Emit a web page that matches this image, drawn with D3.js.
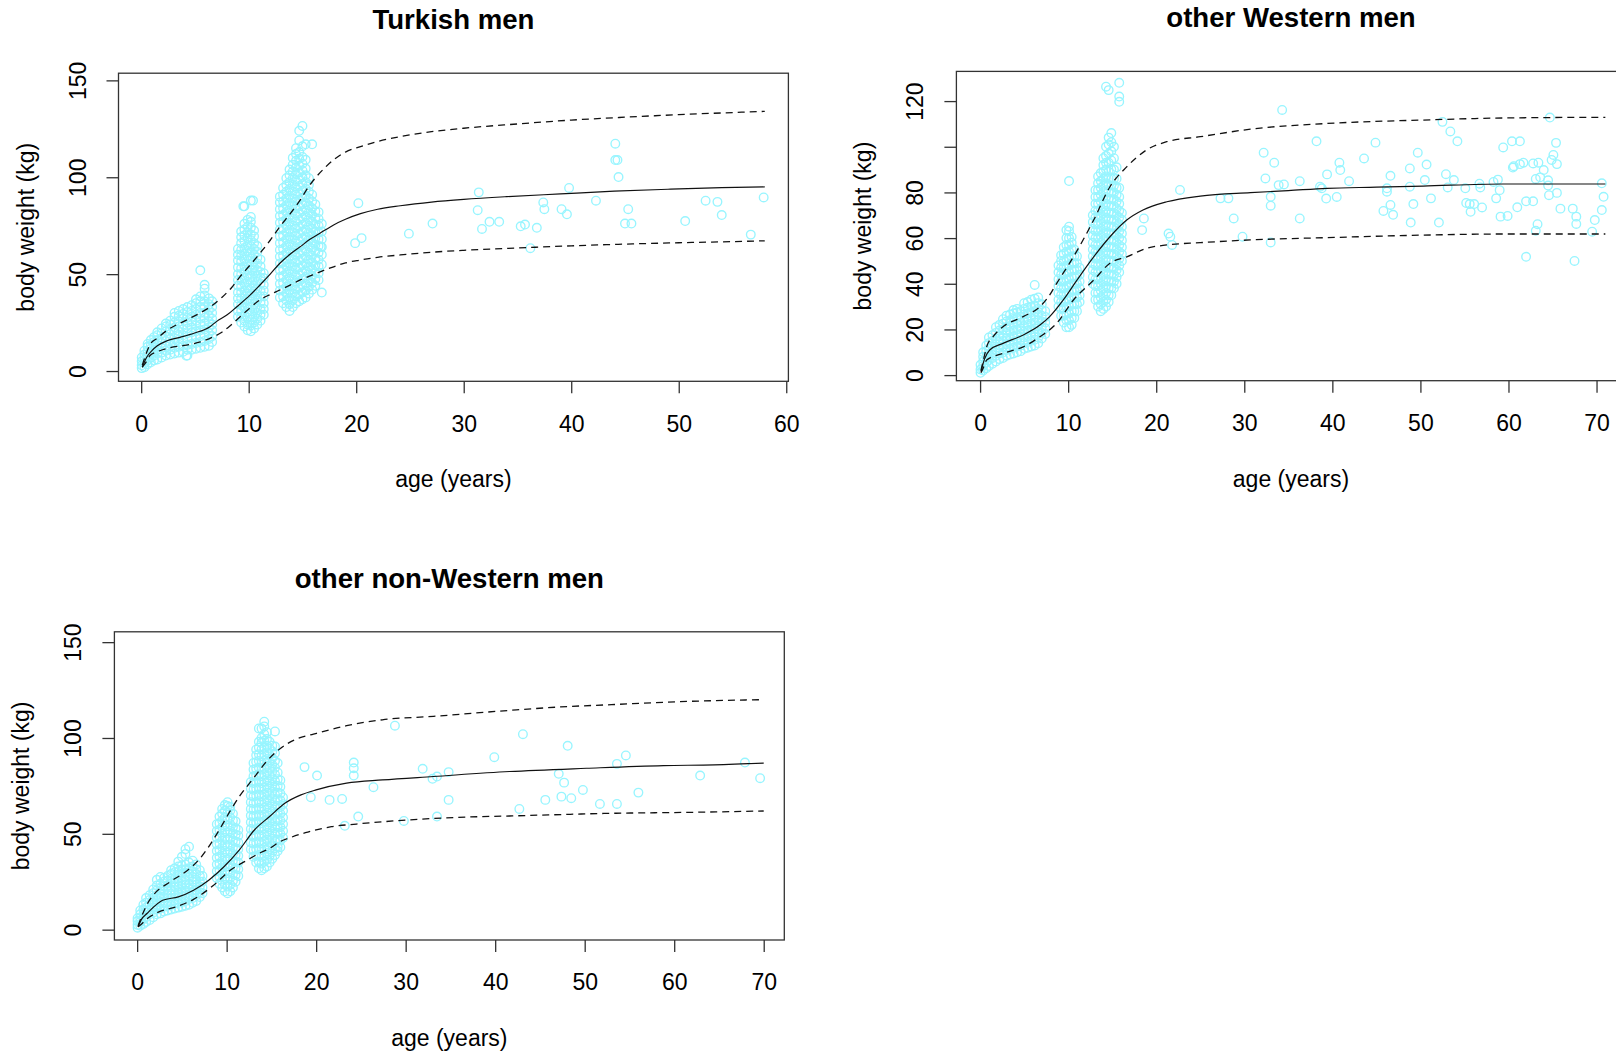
<!DOCTYPE html>
<html>
<head>
<meta charset="utf-8">
<script src="https://cdn.jsdelivr.net/npm/d3@7"></script>
<style>
  body { margin: 0; background: #fff; }
  svg { display: block; }
</style>
</head>
<body>
<script>
// ---- data ----
const titles = ["Turkish men", "other Western men", "other non-Western men"];
const xLabel = "age (years)";
const yLabel = "body weight (kg)";

const turkishXTicks = [0, 10, 20, 30, 40, 50, 60];
const turkishYTicks = [0, 50, 100, 150];
const westernXTicks = [0, 10, 20, 30, 40, 50, 60, 70];
const westernYTicks = [0, 20, 40, 60, 80, 100, 120];
const westernYLabels = ["0", "20", "40", "60", "80", "", "120"];
const nonWesternXTicks = [0, 10, 20, 30, 40, 50, 60, 70];
const nonWesternYTicks = [0, 50, 100, 150];

// Turkish men
const turkishMedian = [[0.1,2],[0.5,7],[1,10.5],[1.5,13],[2.4,15.6],[3.6,17.4],[4.9,19.5],[6.4,22.9],[7,25.5],[8,29],[8.9,33.2],[10,38.5],[11.05,44.4],[12,50],[12.9,55.6],[13.9,60.5],[14.8,64.2],[15.7,68],[16.6,71],[17.9,75.4],[19,78.3],[20.4,81.2],[22,83.5],[24.1,85.3],[27,87.2],[30,88.6],[34,90],[39,91.4],[44,92.8],[49,93.8],[54,94.6],[58,95]];
const turkishUpper = [[0.1,3],[0.4,8],[0.8,13.5],[1.5,17],[2.4,21],[4.2,26.3],[5.5,30],[6.4,33],[7.5,38],[8.4,43],[9.2,48.7],[10.1,54.5],[11.05,60.8],[12,67.5],[12.9,74.5],[13.9,81.5],[14.8,88.3],[15.5,94.5],[16.3,100.3],[17.1,105],[17.9,109],[19,113],[20.4,115.8],[22,118.5],[24.1,121],[27,123.5],[30,125.3],[35,127.5],[40,129.5],[45,131],[50,132.3],[55,133.4],[58,134]];
const turkishLower = [[0.1,2],[0.5,5],[0.82,8],[1.5,10],[2.4,11.7],[4.2,13.4],[5.5,15],[6.4,16.9],[7.5,20],[8.3,23.5],[9.2,28],[10.1,32.5],[11.05,36.7],[12,39.5],[12.9,41.8],[13.9,44.5],[14.8,47],[15.6,48.8],[16.3,50.4],[17.1,52.2],[17.9,53.8],[19,55.8],[20.4,57.3],[22,58.7],[24.1,59.9],[27,61.3],[30,62.3],[35,63.5],[40,64.6],[45,65.5],[50,66.2],[55,66.8],[58,67.2]];
const turkishKids = [
  [0.05,[1.5,3,5,7]],[0.3,[2,4,6,8.5,10.5]],[0.6,[3.5,5.5,8,10,12.5,14]],[0.9,[4.5,7,9,11.5,13.5,16]],
  [1.2,[5.5,8,10.5,12.5,15,17.5]],[1.5,[6,9,11,13.5,16,18.5,20]],[1.9,[7,9.5,12,14.5,17,19.5,22]],
  [2.3,[8,10.5,13,15.5,18,20.5,23,24.5]],[2.7,[8.5,11,14,16.5,19,21.5,24,26]],[3.1,[9,12,14.5,17,20,22.5,25,28,30]],
  [3.5,[9.5,12.5,15,18,20.5,23,25.5,28.5,31]],[3.9,[10,13,16,18.5,21.5,24,27,29.5,32]],
  [4.3,[8,11,13.5,16.5,19.5,22,25,27.5,30.5,33]],[4.7,[11,14,17,20,22.5,25.5,28,31,34]],
  [5.1,[11.5,14.5,17.5,20.5,23.5,26,29,32,35,37]],[5.5,[12,15,18,21,24,27,30,33,36,38.5,52]],
  [5.9,[12.5,15.5,18.5,21.5,24.5,27.5,30,33,36,39,42.5,44.5]],[6.3,[13,16.5,19.5,22.5,25.5,28.5,31.5,34.5,37.5]],
  [6.6,[15,18,21,24,27,30,33,36]]
];
const turkishTens = [
  [9.0,[28,31,34.5,37.5,40.5,44,47,50,53.5,57,60,63]],
  [9.3,[25,28,31,34,37.5,40.5,43.5,47,50,53,56.5,59.5,62.5,66,69,72]],
  [9.6,[23,26,29,32.5,35.5,38.5,41.5,45,48,51,54,57.5,60.5,63.5,67,70,73,76,85]],
  [9.9,[21,24,27.5,30.5,33.5,37,40,43,46,49.5,52.5,55.5,59,62,65,68.5,71.5,74.5,78]],
  [10.2,[20.5,23.5,26.5,29.5,33,36,39,42.5,45.5,48.5,52,55,58,61,64.5,67.5,70.5,74,77,79.5,88]],
  [10.5,[22,25,28,31.5,34.5,37.5,41,44,47,50.5,53.5,56.5,60,63,66,69.5,72.5]],
  [10.8,[24,27,30,33,36.5,39.5,42.5,46,49,52,55.5,58.5,61.5,64.5]],
  [11.1,[26,29,32,35.5,38.5,41.5,45,48,51,54,57.5]],
  [11.4,[29,32,35,38.5,41.5,44.5,48,50.5]]
];
const turkishTeens = [
  [12.9,[38,41.5,45,48.5,52,55.5,59,62.5,66,69.5,73,76.5,80,83.5,87,90]],
  [13.2,[35,38.5,42,45.5,49,52.5,56,59.5,63,66.5,70,73.5,77,80.5,84,87.5,91,94.5]],
  [13.5,[33,36.5,40,43.5,47,50.5,54,57.5,61,64.5,68,71.5,75,78.5,82,85.5,89,92.5,96,99.5]],
  [13.8,[31,34.5,38,41.5,45,48.5,52,55.5,59,62.5,66,69.5,73,76.5,80,83.5,87,90.5,94,97.5,101,104]],
  [14.1,[33,36.5,40,43.5,47,50.5,54,57.5,61,64.5,68,71.5,75,78.5,82,85.5,89,92.5,96,99.5,103,106.5,110]],
  [14.4,[35,38.5,42,45.5,49,52.5,56,59.5,63,66.5,70,73.5,77,80.5,84,87.5,91,94.5,98,101.5,105,108.5,112,115]],
  [14.7,[36,39.5,43,46.5,50,53.5,57,60.5,64,67.5,71,74.5,78,81.5,85,88.5,92,95.5,99,102.5,106,109.5,113,119,124]],
  [15.0,[37,40.5,44,47.5,51,54.5,58,61.5,65,68.5,72,75.5,79,82.5,86,89.5,93,96.5,100,103.5,107,110.5,116,126.5]],
  [15.3,[38,41.5,45,48.5,52,55.5,59,62.5,66,69.5,73,76.5,80,83.5,87,90.5,94,97.5,101,104.5,109,117]],
  [15.6,[40,43.5,47,50.5,54,57.5,61,64.5,68,71.5,75,78.5,82,85.5,89,92.5,96,99.5]],
  [15.9,[42,45.5,49,52.5,56,59.5,63,66.5,70,73.5,77,80.5,84,87.5,91,117]],
  [16.2,[44,47.5,51,54.5,58,61.5,65,68.5,72,75.5,79,82.5,86]],
  [16.5,[47,50.5,54,57.5,61,64.5,68,71.5,75,78.5,82]],
  [16.8,[40.5,55,60,64,68,72,76]]
];
const turkishAdults = [[16.7,64.2],[19.9,66],[20.2,86.6],[20.5,68.6],[24.9,70.9],[27.1,76.1],[31.3,83],[31.4,92.2],[31.7,73.3],[32.4,77],[33.3,77],[35.3,74.7],[35.7,75.6],[36.2,63.4],[36.8,73.9],[37.4,87],[37.5,83.5],[39.1,83.5],[39.6,80.9],[39.8,94.5],[42.3,87.9],[44.1,117.3],[44.1,108.9],[44.3,108.9],[44.4,100.1],[45,76.1],[45.3,83.5],[45.6,76.1],[50.6,77.4],[52.5,87.9],[53.6,87.3],[54,80.5],[56.7,70.4],[57.9,89.6],[4.2,7.9],[9.5,85],[10.4,88]];

// other Western men
const westernMedian = [[0.1,1.5],[0.5,7],[1.1,11],[2.6,13.9],[4.9,17.6],[6.8,21.9],[7.9,25.6],[9.45,32.9],[11,41.6],[12.9,51.8],[14.75,60.6],[16.65,67.9],[18.5,72.3],[21.2,75.9],[25,78.4],[30.7,79.9],[35,80.8],[39.4,81.8],[45,82.3],[50.3,82.8],[59.4,83.7],[65,83.7],[71,83.7]];
const westernUpper = [[0.1,2],[0.4,7],[0.75,12.4],[1.5,17],[2.6,21.2],[4.9,25.6],[6.8,30],[7.8,34.5],[8.7,40.2],[10.6,51.8],[12.9,67.9],[14.75,82.5],[16.65,91.2],[18.9,98.6],[21.2,102.2],[25,104.4],[30.7,107.7],[39.4,110.2],[50.3,111.7],[59.4,112.6],[71,112.9]];
const westernLower = [[0.1,1],[0.4,3.5],[0.75,6.6],[2.6,9.5],[4.9,12.4],[6.8,16.8],[8.7,22.7],[10.6,32.9],[12.9,41.6],[14.75,49],[16.65,51.8],[18.9,55.5],[21.2,57],[25,58],[30.7,59.2],[39.4,60.2],[50.3,61.3],[59.4,61.8],[71,61.8]];
const westernKids = [
  [0.05,[1,2.5,4.5]],[0.35,[2,4,6,8,10]],[0.7,[3,5.5,8,10.5,13]],[1.0,[4,6.5,9,11.5,14,16.5]],
  [1.4,[5,7.5,10,12.5,15,17.5]],[1.8,[6,8.5,11,13.5,16,18.5,21]],[2.2,[7,9.5,12,14.5,17,19.5,22]],
  [2.6,[7.5,10,12.5,15,17.5,20,22.5,24.5]],[3.0,[8.5,11,13.5,16,18.5,21,23.5,26]],[3.4,[9,11.5,14,16.5,19,21.5,24,26.5]],
  [3.8,[9.5,12,14.5,17,19.5,22,24.5,27,28.5]],[4.2,[10,12.5,15,17.5,20,22.5,25,27.5,29]],[4.6,[10.5,13,15.5,18,20.5,23,25.5,28]],
  [5.0,[11.5,14,16.5,19,21.5,24,26.5,29,31.5]],[5.4,[12,14.5,17,19.5,22,24.5,27,29.5,32]],[5.8,[12.5,15,17.5,20,22.5,25,27.5,30,33]],
  [6.2,[13,15.5,18,20.5,23,25.5,28,30.5,33.5,39.5]],[6.6,[14,16.5,19,21.5,24,26.5,29,31.5,34]],[7.0,[16,18.5,21,23.5,26,28.5,31]],
  [7.4,[18,20.5,23,25.5,28]]
];
const westernTens = [
  [8.9,[30,33,36,39,42,45,48]],
  [9.2,[26,29,32,35,38,41,44,47,50,52.5]],
  [9.5,[23,26,29,32,35,38,41,44,47,50,53,56]],
  [9.8,[21,24,27,30,33,36,39,42,45,48,51,54,57,60,63.5]],
  [10.1,[21,24,27,30,33,36,39,42,45,48,51,54,57,60,63,65,85]],
  [10.4,[22,25,28,31,34,37,40,43,46,49,52,55,58,60.5]],
  [10.7,[25,28,31,34,37,40,43,46,49,52,55]],
  [11.0,[28,31,34,37,40,43,46,49,52]],
  [11.3,[32,35,38,41,44,47]]
];
const westernTeens = [
  [12.8,[40,43,46,49,52,55,58,61,64,67,70]],
  [13.1,[33,36,39,42,45,48,51,54,57,60,63,66,69,72,75,78,81]],
  [13.4,[30,33,36,39,42,45,48,51,54,57,60,63,66,69,72,75,78,81,84,87]],
  [13.7,[28,31,34,37,40,43,46,49,52,55,58,61,64,67,70,73,76,79,82,85,88.5]],
  [14.0,[29,32,35,38,41,44,47,50,53,56,59,62,65,68,71,74,77,80,83,86,89,92,95]],
  [14.3,[30,33,36,39,42,45,48,51,54,57,60,63,66,69,72,75,78,81,84,87,90,93,96,100,126.3]],
  [14.6,[32,35,38,41,44,47,50,53,56,59,62,65,68,71,74,77,80,83,86,89,93,97,101,104,124.8]],
  [14.9,[35,38,41,44,47,50,53,56,59,62,65,68,71,74,77,80,83,86,90,94,98,102,106]],
  [15.2,[38,41,44,47,50,53,56,59,62,65,68,71,74,77,80,83,86,90,95,100]],
  [15.5,[40,43,46,49,52,55,58,61,64,67,70,73,76,79,82,86,91]],
  [15.8,[45,48,51,54,57,60,63,66,69,72,75,78,82,119.7,122,128]],
  [16.1,[50,53,56,59,62,65,68,71]]
];
const westernAdults = [[18.6,68.6],[18.4,63.5],[22.7,81.1],[21.4,62],[21.6,60.6],[21.8,57],[27.3,77.4],[28.2,77.4],[28.8,68.6],[29.8,60.6],[34.3,116.1],[32.2,97.4],[33.4,93],[32.4,86.1],[33.9,83.2],[34.5,83.5],[33,78.1],[33,74.2],[33,58.1],[36.3,84.9],[36.3,68.6],[38.2,102.4],[39.4,87.9],[38.6,82.5],[38.8,81.8],[39.3,77.3],[40.5,78],[40.8,93],[40.9,89.8],[41.9,84.9],[43.6,94.9],[44.9,101.8],[46.2,81.8],[46.2,80.3],[46.6,87.3],[46.6,74.5],[45.8,71.9],[46.9,70.2],[48.8,90.5],[48.8,82.5],[49.2,74.9],[48.9,66.8],[49.7,97.4],[50.7,92.2],[50.5,85.4],[51.2,77.4],[52.1,66.8],[52.5,110.9],[53.4,106.7],[54.2,102.4],[52.9,88],[53.8,85.4],[53.1,82.2],[55.1,81.8],[55.2,75.4],[55.6,74.9],[55.7,71.5],[56.1,74.9],[56.7,83.8],[56.8,82.2],[57,73.4],[58.3,84.6],[58.8,85.6],[59,81],[58.6,77.4],[59.1,69.4],[59.9,69.7],[59.4,99.7],[60.4,102.4],[61.3,102.4],[60.5,90.9],[61.3,92.4],[60.6,91.5],[61,73.5],[62,76.1],[62.8,76.1],[61.7,93],[62.8,92.7],[63.4,93],[64,89.8],[63.1,85.9],[63.6,86.6],[64.5,85.3],[64.5,83],[64.6,78.8],[65.5,79.8],[64.7,112.8],[65.1,96.4],[64.9,94.2],[65.5,92.4],[65.4,101.7],[65.9,72.9],[63.3,66.1],[63.1,63.2],[62,51.8],[67.3,72.9],[67.7,69.4],[67.7,66.2],[67.5,50],[69.8,67.9],[69.5,62.8],[70.6,84],[70.8,78.1],[70.6,72.3]];

// other non-Western men
const nonWesternMedian = [[0.1,1.4],[0.5,5.5],[1.1,8.4],[2.85,15.3],[4.6,17.1],[6.3,20.6],[8,25.8],[9.7,32.8],[11.4,41.5],[13.1,52],[14.8,59],[16.5,65.9],[18.3,70.3],[20,72.9],[23.4,76.4],[27.4,78.1],[33.1,79.9],[41.6,82.5],[50.2,84.2],[58.8,85.6],[64.5,86],[70,86.9]];
const nonWesternUpper = [[0.1,2],[0.6,8],[1.2,14],[1.8,18],[3.7,25],[5.5,30.5],[7,37],[8.1,44],[9.3,53],[10.4,62],[11.5,70],[13,79],[14.5,88],[16,94.5],[17.8,99.5],[19.7,102],[23.4,106.4],[27.4,109.5],[33.1,111.3],[41.6,114.4],[47.3,116.2],[53,117.4],[61.6,119.1],[70,120]];
const nonWesternLower = [[0.1,1.5],[0.5,3],[1.07,5.5],[2.3,9],[4.4,12],[6.3,15.8],[8.5,23],[10.4,31],[12.2,36],[13.5,39.5],[14.8,42.4],[16,46],[17.1,48],[18.8,50.6],[21.7,53.7],[24.5,55.1],[30.2,57.2],[35.9,58.6],[41.6,59.3],[53,60.7],[61.6,61.2],[70,61.9]];
const nonWesternKids = [
  [0.05,[1,2.5,4.5,6]],[0.35,[2,4,6,8,10]],[0.7,[3,5.5,8,10.5,13]],[1.0,[4,6.5,9,11.5,14,16.5]],
  [1.4,[5,8,10.5,13,15.5,18]],[1.8,[6.5,9,11.5,14,16.5,19,21]],[2.2,[8,10.5,13,15.5,18,20.5,23,26]],
  [2.6,[8.5,11,14,16.5,19,21.5,24,27.5]],[3.0,[9.5,12,14.5,17,20,22.5,25,27]],[3.4,[10,12.5,15,18,20.5,23,25.5,28]],
  [3.8,[10.5,13,16,18.5,21,24,26.5,29,31]],[4.2,[11,13.5,16.5,19,22,24.5,27,30,32]],
  [4.6,[11.5,14,17,19.5,22.5,25,28,30.5,33,35.5]],[5.0,[12,14.5,17.5,20,23,25.5,28.5,31,33.5,38]],
  [5.4,[12.5,15,18,20.5,23.5,26,29,31.5,34,39.5,42]],[5.8,[13,16,18.5,21.5,24,27,29.5,32,35,43.3]],
  [6.2,[14,16.5,19.5,22,25,27.5,30.5,33,36]],[6.6,[15,18,20.5,23.5,26,29,31.5,34]],
  [7.0,[17,19.5,22.5,25,28,31]],[7.3,[19,22,25,28]]
];
const nonWesternTens = [
  [8.9,[27,30.5,34,37.5,41,44.5,48,51.5,55]],
  [9.2,[24,27.5,31,34.5,38,41.5,45,48.5,52,55.5,59]],
  [9.5,[22,25.5,29,32.5,36,39.5,43,46.5,50,53.5,57,60.5,63]],
  [9.8,[20,23.5,27,30.5,34,37.5,41,44.5,48,51.5,55,58.5,62,65]],
  [10.1,[19,22.5,26,29.5,33,36.5,40,43.5,47,50.5,54,57.5,61,64.5,66.5]],
  [10.4,[20,23.5,27,30.5,34,37.5,41,44.5,48,51.5,55,58.5,62,64]],
  [10.7,[22,25.5,29,32.5,36,39.5,43,46.5,50,53.5,57,60.5]],
  [11.0,[25,28.5,32,35.5,39,42.5,46,49.5,53,56.5]],
  [11.3,[28,31.5,35,38.5,42,45.5,49,52]]
];
const nonWesternTeens = [
  [12.7,[42,45.5,49,52.5,56,59.5,63,66.5,70,73.5,77]],
  [13.0,[38,41.5,45,48.5,52,55.5,59,62.5,66,69.5,73,76.5,80,83.5,87]],
  [13.3,[35,38.5,42,45.5,49,52.5,56,59.5,63,66.5,70,73.5,77,80.5,84,87.5,91,94]],
  [13.6,[32,35.5,39,42.5,46,49.5,53,56.5,60,63.5,67,70.5,74,77.5,81,84.5,88,91.5,95,98,105]],
  [13.9,[31,34.5,38,41.5,45,48.5,52,55.5,59,62.5,66,69.5,73,76.5,80,83.5,87,90.5,94,97.5,100,105]],
  [14.2,[32,35.5,39,42.5,46,49.5,53,56.5,60,63.5,67,70.5,74,77.5,81,84.5,88,91.5,95,98.5,102,106,108.5]],
  [14.5,[33,36.5,40,43.5,47,50.5,54,57.5,61,64.5,68,71.5,75,78.5,82,85.5,89,92.5,96,99.5,103]],
  [14.8,[35,38.5,42,45.5,49,52.5,56,59.5,63,66.5,70,73.5,77,80.5,84,87.5,91,94.5,98]],
  [15.1,[37,40.5,44,47.5,51,54.5,58,61.5,65,68.5,72,75.5,79,82.5,86,89.5,93,96]],
  [15.4,[39,42.5,46,49.5,53,56.5,60,63.5,67,70.5,74,77.5,81,84.5,88,92,95.6,103.4]],
  [15.7,[41,43.3,47,50.5,54,57.5,61,64.5,68,71.5,75,78.5,82,86.9]],
  [16.0,[43,46.5,50,53.5,57,60.5,64,67.5,71,74.5,78]],
  [16.3,[48,51.5,55,58.5,62,65.5,69]]
];
const nonWesternAdults = [[18.7,84.8],[19.4,69.1],[20.1,80.4],[21.5,67.7],[22.9,68.2],[23.2,54.2],[24.2,87.2],[24.2,84.2],[24.2,80.4],[24.7,59],[26.4,74.3],[28.8,106.4],[29.8,56.7],[31.9,83.9],[33,78.7],[33.5,79.9],[33.5,59],[34.8,82.2],[34.8,67.7],[39.9,90],[42.7,63],[43.1,102],[45.6,67.7],[47.1,81.3],[47.4,69.4],[47.7,76.7],[48.1,95.9],[48.5,68.6],[49.8,72.9],[51.7,65.6],[53.6,86.5],[53.6,65.6],[54.6,90.9],[56,71.5],[62.9,80.4],[67.9,87.2],[69.6,79]];

// ---- layout (pixels) ----
const panels = [
  { title: titles[0], box: {left: 118.5, top: 73.2, right: 788.4, bottom: 381.3}, xLim: [-2.11, 60.2], yLim: [-5.3, 153.7],
    xTicks: turkishXTicks, yTicks: turkishYTicks, yLabels: turkishYTicks.map(String),
    groups: [turkishKids, turkishTens, turkishTeens], adults: turkishAdults,
    median: turkishMedian, upper: turkishUpper, lower: turkishLower },
  { title: titles[1], box: {left: 956.4, top: 71.4, right: 1625.6, bottom: 380.7}, xLim: [-2.69, 73.3], yLim: [-2.45, 133.0],
    xTicks: westernXTicks, yTicks: westernYTicks, yLabels: westernYLabels,
    groups: [westernKids, westernTens, westernTeens], adults: westernAdults,
    median: westernMedian, upper: westernUpper, lower: westernLower },
  { title: titles[2], box: {left: 114.4, top: 631.8, right: 784.3, bottom: 940}, xLim: [-2.54, 72.3], yLim: [-5.4, 155.4],
    xTicks: nonWesternXTicks, yTicks: nonWesternYTicks, yLabels: nonWesternYTicks.map(String),
    groups: [nonWesternKids, nonWesternTens, nonWesternTeens], adults: nonWesternAdults,
    median: nonWesternMedian, upper: nonWesternUpper, lower: nonWesternLower }
];

const FONT = "'Liberation Sans', Arial, sans-serif";
const pointColor = "#98F5FF";

let svg = d3.select("body").append("svg")
    .attr("width", 1616)
    .attr("height", 1054)
    .style("font-family", FONT);

svg.append("rect").attr("width", 1616).attr("height", 1054).attr("fill", "#fff");

function drawPanel(p) {
    let g = svg.append("g");
    let b = p.box;
    let x = d3.scaleLinear().domain(p.xLim).range([b.left, b.right]);
    let y = d3.scaleLinear().domain(p.yLim).range([b.bottom, b.top]);

    // scatter: columns of weights at one age, then the single adults
    let pts = p.groups.flatMap(cols => cols.flatMap(([a, ws]) => ws.map(w => [a, w])))
        .concat(p.adults);

    g.append("g")
        .selectAll("circle")
        .data(pts)
        .join("circle")
        .attr("cx", d => x(d[0]))
        .attr("cy", d => y(d[1]))
        .attr("r", 4.3)
        .style("fill", "none")
        .style("stroke", pointColor)
        .style("stroke-width", 1.35);

    let line = d3.line()
        .x(d => x(d[0]))
        .y(d => y(d[1]))
        .curve(d3.curveMonotoneX);

    g.append("path")
        .attr("d", line(p.median))
        .style("fill", "none")
        .style("stroke", "#111")
        .style("stroke-width", 1.2);

    [p.upper, p.lower].forEach(s => {
        g.append("path")
            .attr("d", line(s))
            .style("fill", "none")
            .style("stroke", "#111")
            .style("stroke-width", 1.3)
            .style("stroke-dasharray", "7,5");
    });

    // frame
    g.append("rect")
        .attr("x", b.left)
        .attr("y", b.top)
        .attr("width", b.right - b.left)
        .attr("height", b.bottom - b.top)
        .style("fill", "none")
        .style("stroke", "#333")
        .style("stroke-width", 1.3);

    // x axis
    let xa = g.append("g")
        .attr("transform", "translate(0," + b.bottom + ")")
        .call(d3.axisBottom(x).tickValues(p.xTicks).tickSize(12).tickSizeOuter(0).tickPadding(22));
    xa.select(".domain").remove();
    xa.selectAll("line").style("stroke", "#333").style("stroke-width", 1.3);
    xa.selectAll("text")
        .style("font-family", FONT)
        .style("font-size", "23px")
        .style("fill", "#000");

    // y axis
    let ya = g.append("g")
        .attr("transform", "translate(" + b.left + ",0)")
        .call(d3.axisLeft(y).tickValues(p.yTicks).tickSize(12).tickSizeOuter(0)
            .tickFormat((d, i) => p.yLabels[i]));
    ya.select(".domain").remove();
    ya.selectAll("line").style("stroke", "#333").style("stroke-width", 1.3);
    ya.selectAll("text")
        .attr("x", null)
        .attr("dy", null)
        .attr("text-anchor", "middle")
        .attr("transform", "translate(-33,0) rotate(-90)")
        .style("font-family", FONT)
        .style("font-size", "23px")
        .style("fill", "#000");

    // titles and labels
    let cx = (b.left + b.right) / 2;
    let cy = (b.top + b.bottom) / 2;

    g.append("text")
        .attr("x", cx)
        .attr("y", b.top - 44)
        .attr("text-anchor", "middle")
        .style("font-size", "27.6px")
        .style("font-weight", "bold")
        .text(p.title);

    g.append("text")
        .attr("x", cx)
        .attr("y", b.bottom + 106)
        .attr("text-anchor", "middle")
        .style("font-size", "23px")
        .text(xLabel);

    g.append("text")
        .attr("transform", "translate(" + (b.left - 85) + "," + cy + ") rotate(-90)")
        .attr("text-anchor", "middle")
        .style("font-size", "23px")
        .text(yLabel);
}

panels.forEach(drawPanel);
</script>
</body>
</html>
